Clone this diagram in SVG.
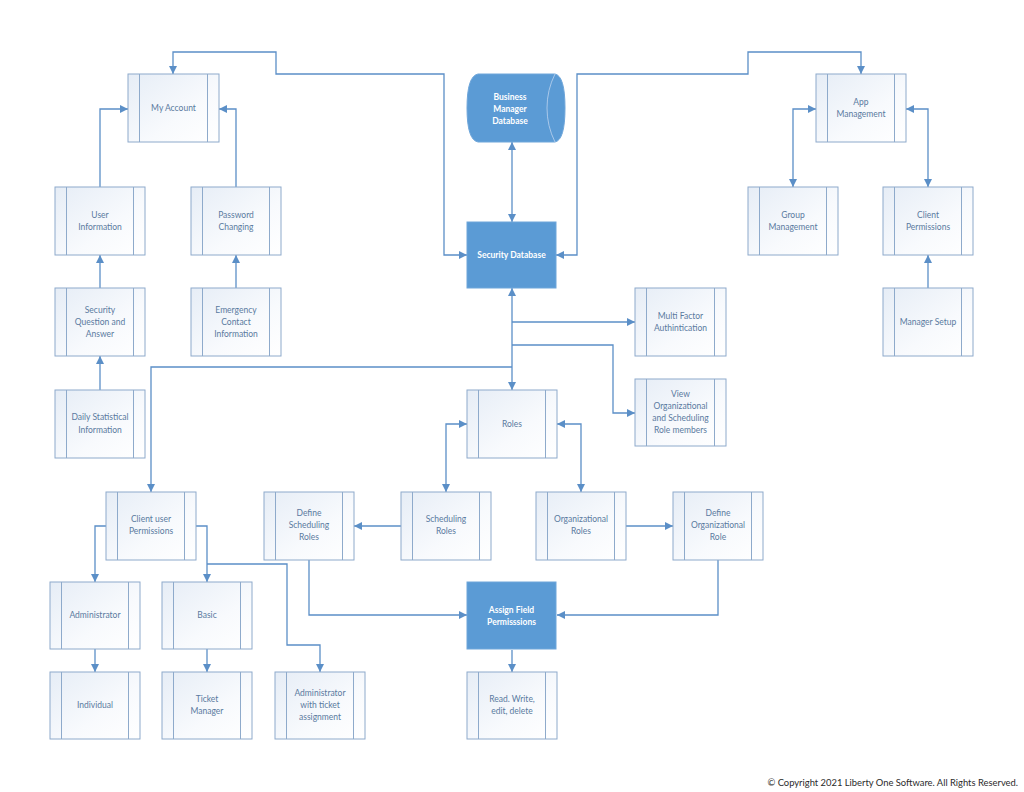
<svg xmlns="http://www.w3.org/2000/svg" width="1024" height="792" viewBox="0 0 1024 792">
<style>
.bx{fill:url(#g);stroke:#8eaacb;stroke-width:1}
.st{stroke:#8eaacb;stroke-width:1}
.fb{fill:#5b9bd5;stroke:#6fa6da;stroke-width:1}
.t{font-family:Lato,"Liberation Sans",sans-serif;font-size:8.5px;fill:#5a7aa0;text-anchor:middle}
.tw{font-family:Lato,"Liberation Sans",sans-serif;font-size:8.5px;font-weight:bold;fill:#ffffff;text-anchor:middle}
.c{fill:none;stroke:#5b8fc7;stroke-width:1.3}
.a{marker-end:url(#ah)}
.d{marker-start:url(#ah);marker-end:url(#ah)}
.cp{font-family:Lato,"Liberation Sans",sans-serif;font-size:9.4px;fill:#2b2b2b}
</style>
<defs>
<linearGradient id="g" x1="0" y1="0" x2="1" y2="1">
<stop offset="0" stop-color="#e6edf6"/>
<stop offset="0.6" stop-color="#f8fafd"/>
<stop offset="1" stop-color="#ffffff"/>
</linearGradient>
<marker id="ah" viewBox="0 0 10 10" refX="10" refY="5" markerWidth="8" markerHeight="8" markerUnits="userSpaceOnUse" orient="auto-start-reverse">
<path d="M0,0 L10,5 L0,10 Z" fill="#5b8fc7"/>
</marker>
</defs>
<rect width="1024" height="792" fill="#ffffff"/>

<g id="connectors">
<path class="c d" d="M173,74 L173,52 L276,52 L276,74 L444,74 L444,255 L467,255"/>
<path class="c d" d="M556,255 L577,255 L577,74 L748,74 L748,52 L861,52 L861,74"/>
<path class="c d" d="M512,142 L512,222"/>
<path class="c d" d="M512,288 L512,390"/>
<path class="c a" d="M512,322 L635,322"/>
<path class="c a" d="M512,345 L613,345 L613,413 L635,413"/>
<path class="c a" d="M512,367 L151,367 L151,492"/>
<path class="c a" d="M100,187 L100,109 L128,109"/>
<path class="c a" d="M236,187 L236,109 L219,109"/>
<path class="c a" d="M100,288 L100,255"/>
<path class="c a" d="M236,288 L236,255"/>
<path class="c a" d="M100,390 L100,356"/>
<path class="c d" d="M816,109 L793,109 L793,187"/>
<path class="c d" d="M906,109 L928,109 L928,187"/>
<path class="c a" d="M928,288 L928,255"/>
<path class="c a" d="M106,526 L95,526 L95,582"/>
<path class="c a" d="M196,526 L207,526 L207,582"/>
<path class="c a" d="M207,564 L287,564 L287,645 L320,645 L320,672"/>
<path class="c a" d="M95,649 L95,672"/>
<path class="c a" d="M207,649 L207,672"/>
<path class="c d" d="M467,424 L446,424 L446,492"/>
<path class="c d" d="M557,424 L581,424 L581,492"/>
<path class="c a" d="M401,526 L354,526"/>
<path class="c a" d="M626,526 L673,526"/>
<path class="c a" d="M309,560 L309,615 L467,615"/>
<path class="c a" d="M718,560 L718,615 L557,615"/>
<path class="c a" d="M512,650 L512,672"/>
</g>

<g id="bmd">
<path class="fb" d="M478,74 L555,74 Q565,76 565,108 Q565,140 555,142 L478,142 Q467,140 467,108 Q467,76 478,74 Z"/>
<path d="M555,74 Q547,90 547,108 Q547,126 555,142" fill="none" stroke="#a9c8ea" stroke-width="1"/>
<text class="tw" x="510" y="100">Business</text>
<text class="tw" x="510" y="112">Manager</text>
<text class="tw" x="510" y="124">Database</text>
</g>

<g id="secdb">
<rect class="fb" x="467" y="222" width="89" height="66"/>
<text class="tw" x="511.5" y="258">Security Database</text>
</g>

<g id="assign">
<rect class="fb" x="467" y="582" width="89" height="67"/>
<text class="tw" x="511.5" y="613">Assign Field</text>
<text class="tw" x="511.5" y="625">Permisssions</text>
</g>

<g id="myaccount">
<rect class="bx" x="128" y="74" width="91" height="68"/>
<path class="st" d="M139.5,74 V142 M207.5,74 V142"/>
<text class="t" x="173.5" y="111">My Account</text>
</g>

<g id="appmgmt">
<rect class="bx" x="816" y="74" width="90" height="68"/>
<path class="st" d="M827.5,74 V142 M894.5,74 V142"/>
<text class="t" x="861" y="105">App</text>
<text class="t" x="861" y="117">Management</text>
</g>

<g id="userinfo">
<rect class="bx" x="55" y="187" width="90" height="68"/>
<path class="st" d="M66.5,187 V255 M133.5,187 V255"/>
<text class="t" x="100" y="218">User</text>
<text class="t" x="100" y="230">Information</text>
</g>

<g id="password">
<rect class="bx" x="191" y="187" width="90" height="68"/>
<path class="st" d="M202.5,187 V255 M269.5,187 V255"/>
<text class="t" x="236" y="218">Password</text>
<text class="t" x="236" y="230">Changing</text>
</g>

<g id="secq">
<rect class="bx" x="55" y="288" width="90" height="68"/>
<path class="st" d="M66.5,288 V356 M133.5,288 V356"/>
<text class="t" x="100" y="313">Security</text>
<text class="t" x="100" y="325">Question and</text>
<text class="t" x="100" y="337">Answer</text>
</g>

<g id="emergency">
<rect class="bx" x="191" y="288" width="90" height="68"/>
<path class="st" d="M202.5,288 V356 M269.5,288 V356"/>
<text class="t" x="236" y="313">Emergency</text>
<text class="t" x="236" y="325">Contact</text>
<text class="t" x="236" y="337">Information</text>
</g>

<g id="daily">
<rect class="bx" x="55" y="390" width="90" height="68"/>
<path class="st" d="M66.5,390 V458 M133.5,390 V458"/>
<text class="t" x="100" y="420">Daily Statistical</text>
<text class="t" x="100" y="433">Information</text>
</g>

<g id="group">
<rect class="bx" x="748" y="187" width="90" height="68"/>
<path class="st" d="M759.5,187 V255 M826.5,187 V255"/>
<text class="t" x="793" y="218">Group</text>
<text class="t" x="793" y="230">Management</text>
</g>

<g id="clientperm">
<rect class="bx" x="883" y="187" width="90" height="68"/>
<path class="st" d="M894.5,187 V255 M961.5,187 V255"/>
<text class="t" x="928" y="218">Client</text>
<text class="t" x="928" y="230">Permissions</text>
</g>

<g id="managersetup">
<rect class="bx" x="883" y="288" width="90" height="68"/>
<path class="st" d="M894.5,288 V356 M961.5,288 V356"/>
<text class="t" x="928" y="325">Manager Setup</text>
</g>

<g id="mfa">
<rect class="bx" x="635" y="288" width="91" height="68"/>
<path class="st" d="M646.5,288 V356 M714.5,288 V356"/>
<text class="t" x="680.5" y="319">Multi Factor</text>
<text class="t" x="680.5" y="331">Authintication</text>
</g>

<g id="view">
<rect class="bx" x="635" y="379" width="91" height="67"/>
<path class="st" d="M646.5,379 V446 M714.5,379 V446"/>
<text class="t" x="680.5" y="397">View</text>
<text class="t" x="680.5" y="409">Organizational</text>
<text class="t" x="680.5" y="421">and Scheduling</text>
<text class="t" x="680.5" y="433">Role members</text>
</g>

<g id="roles">
<rect class="bx" x="467" y="390" width="90" height="68"/>
<path class="st" d="M478.5,390 V458 M545.5,390 V458"/>
<text class="t" x="512" y="427">Roles</text>
</g>

<g id="clientuser">
<rect class="bx" x="106" y="492" width="90" height="68"/>
<path class="st" d="M117.5,492 V560 M184.5,492 V560"/>
<text class="t" x="151" y="522">Client user</text>
<text class="t" x="151" y="534">Permissions</text>
</g>

<g id="defsched">
<rect class="bx" x="264" y="492" width="90" height="68"/>
<path class="st" d="M275.5,492 V560 M342.5,492 V560"/>
<text class="t" x="309" y="516">Define</text>
<text class="t" x="309" y="528">Scheduling</text>
<text class="t" x="309" y="540">Roles</text>
</g>

<g id="sched">
<rect class="bx" x="401" y="492" width="90" height="68"/>
<path class="st" d="M412.5,492 V560 M479.5,492 V560"/>
<text class="t" x="446" y="522">Scheduling</text>
<text class="t" x="446" y="534">Roles</text>
</g>

<g id="org">
<rect class="bx" x="536" y="492" width="90" height="68"/>
<path class="st" d="M547.5,492 V560 M614.5,492 V560"/>
<text class="t" x="581" y="522">Organizational</text>
<text class="t" x="581" y="534">Roles</text>
</g>

<g id="deforg">
<rect class="bx" x="673" y="492" width="90" height="68"/>
<path class="st" d="M684.5,492 V560 M751.5,492 V560"/>
<text class="t" x="718" y="516">Define</text>
<text class="t" x="718" y="528">Organizational</text>
<text class="t" x="718" y="540">Role</text>
</g>

<g id="administrator">
<rect class="bx" x="50" y="582" width="90" height="67"/>
<path class="st" d="M61.5,582 V649 M128.5,582 V649"/>
<text class="t" x="95" y="618">Administrator</text>
</g>

<g id="basic">
<rect class="bx" x="162" y="582" width="90" height="67"/>
<path class="st" d="M173.5,582 V649 M240.5,582 V649"/>
<text class="t" x="207" y="618">Basic</text>
</g>

<g id="individual">
<rect class="bx" x="50" y="672" width="90" height="67"/>
<path class="st" d="M61.5,672 V739 M128.5,672 V739"/>
<text class="t" x="95" y="708">Individual</text>
</g>

<g id="ticket">
<rect class="bx" x="162" y="672" width="90" height="67"/>
<path class="st" d="M173.5,672 V739 M240.5,672 V739"/>
<text class="t" x="207" y="702">Ticket</text>
<text class="t" x="207" y="714">Manager</text>
</g>

<g id="adminticket">
<rect class="bx" x="275" y="672" width="90" height="67"/>
<path class="st" d="M286.5,672 V739 M353.5,672 V739"/>
<text class="t" x="320" y="696">Administrator</text>
<text class="t" x="320" y="708">with ticket</text>
<text class="t" x="320" y="720">assignment</text>
</g>

<g id="readwrite">
<rect class="bx" x="467" y="672" width="90" height="67"/>
<path class="st" d="M478.5,672 V739 M545.5,672 V739"/>
<text class="t" x="512" y="702">Read. Write,</text>
<text class="t" x="512" y="714">edit, delete</text>
</g>

<text class="cp" x="1018" y="786" text-anchor="end">© Copyright 2021 Liberty One Software. All Rights Reserved.</text>
</svg>
